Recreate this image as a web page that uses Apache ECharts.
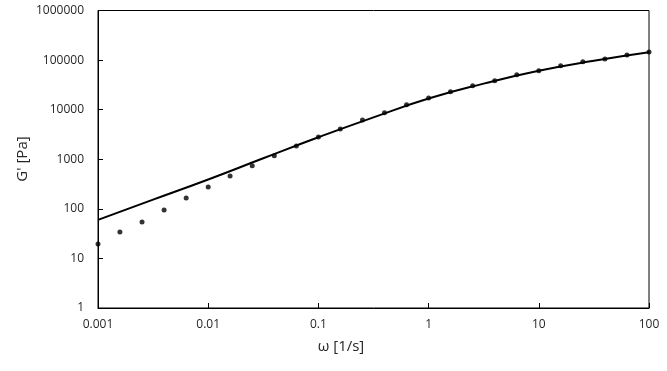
<!DOCTYPE html>
<html>
<head>
<meta charset="utf-8">
<script src="https://cdn.jsdelivr.net/npm/echarts@6/dist/echarts.min.js"></script>
<style>
  html, body { margin: 0; padding: 0; background: #fff; }
  #main { width: 667px; height: 371px; }
</style>
</head>
<body>
<div id="main"></div>
<script>
// measured G' (points), 5 per decade
var omega = [0.001, 0.00158, 0.00251, 0.00398, 0.00631, 0.01, 0.0158, 0.0251, 0.0398, 0.0631,
             0.1, 0.158, 0.251, 0.398, 0.631, 1, 1.58, 2.51, 3.98, 6.31,
             10, 15.8, 25.1, 39.8, 63.1, 100];
var gMeasured = [19.5, 34, 54, 95, 165, 275, 460, 740, 1170, 1850,
                 2800, 4060, 6170, 8650, 12560, 17100, 23000, 30300, 38300, 50500,
                 60800, 76800, 92500, 105000, 126000, 145000];

// model curve
var omegaFit = [0.001, 0.00316, 0.01, 0.0316, 0.1, 0.316, 1, 3.16, 10, 31.6, 100];
var gFit = [60, 153, 391, 1047, 2775, 7000, 16750, 33500, 61000, 97000, 143600];

var xTicks = ['0.001', '0.01', '0.1', '1', '10', '100'];
var yTicks = ['1', '10', '100', '1000', '10000', '100000', '1000000'];

var pts = omega.map(function (w, i) { return [w, gMeasured[i]]; });
var fit = omegaFit.map(function (w, i) { return [w, gFit[i]]; });

var font = '"Open Sans", "Liberation Sans", sans-serif';

function fmt(list) {
    return function (v) {
        var s = String(Number(v.toPrecision(6)));
        return list.indexOf(s) >= 0 ? s : '';
    };
}

var chart = echarts.init(document.getElementById('main'));
var option = {
    animation: false,
    grid: {
        left: 98, right: 18, top: 10.5, bottom: 63,
        show: true, borderColor: '#000', borderWidth: 1
    },
    xAxis: {
        type: 'log', logBase: 10, min: 0.001, max: 100,
        axisLine: { lineStyle: { color: '#000' } },
        axisTick: { inside: true, length: 5, lineStyle: { color: '#000' } },
        minorTick: { show: false },
        splitLine: { show: false },
        axisLabel: { color: '#262626', fontSize: 12, fontFamily: font, margin: 11, formatter: fmt(xTicks) }
    },
    yAxis: {
        type: 'log', logBase: 10, min: 1, max: 1000000,
        axisLine: { lineStyle: { color: '#000' } },
        axisTick: { inside: true, length: 5, lineStyle: { color: '#000' } },
        splitLine: { show: false },
        axisLabel: { color: '#262626', fontSize: 12, fontFamily: font, margin: 14, formatter: fmt(yTicks) }
    },
    graphic: [
        {
            type: 'text', x: 341, y: 347,
            style: { text: 'ω [1/s]', fill: '#262626', fontSize: 15, fontFamily: font, align: 'center', verticalAlign: 'middle' }
        },
        {
            type: 'text', x: 23, y: 159, rotation: Math.PI / 2,
            style: { text: "G' [Pa]", fill: '#262626', fontSize: 15, fontFamily: font, align: 'center', verticalAlign: 'middle' }
        }
    ],
    series: [
        {
            type: 'line', data: fit, smooth: 0.5, showSymbol: false,
            lineStyle: { color: '#000', width: 2 }, z: 2
        },
        {
            type: 'scatter', data: pts, symbolSize: 5,
            itemStyle: { color: '#000' }, z: 3
        }
    ]
};
chart.setOption(option);
</script>
</body>
</html>
